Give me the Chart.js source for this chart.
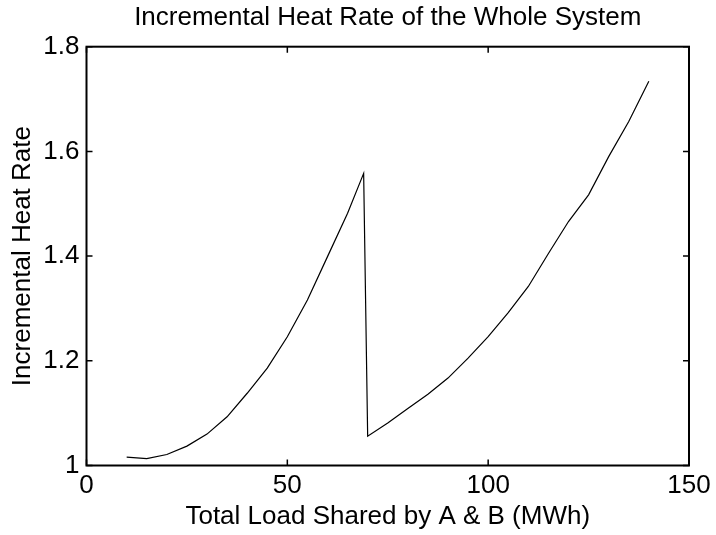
<!DOCTYPE html>
<html>
<head>
<meta charset="utf-8">
<title>Incremental Heat Rate</title>
<script src="https://cdn.jsdelivr.net/npm/chart.js@4.4.1/dist/chart.umd.min.js"></script>
<style>
  body { margin: 0; background: #fff; }
  #wrap { width: 716px; height: 535px; }
</style>
</head>
<body>
<div id="wrap"><canvas id="heatChart" width="716" height="535"></canvas></div>
<script>
// total load (MWh) and incremental heat rate
const loadMWh = [10, 15, 20, 25, 30, 35, 40, 45, 50, 55, 60, 65, 69,
  70, 75, 80, 85, 90, 95, 100, 105, 110, 115, 120, 125, 130, 135, 140];
const heatRate = [1.016, 1.013, 1.021, 1.037, 1.060, 1.093, 1.138, 1.186, 1.246, 1.316, 1.399, 1.482, 1.558,
  1.056, 1.081, 1.109, 1.136, 1.167, 1.205, 1.246, 1.292, 1.342, 1.405, 1.466, 1.517, 1.590, 1.657, 1.734];

const xTickValues = [0, 50, 100, 150];
const xTickLabels = ['0', '50', '100', '150'];
const yTickValues = [1, 1.2, 1.4, 1.6, 1.8];
const yTickLabels = ['1', '1.2', '1.4', '1.6', '1.8'];

const chartTitle = 'Incremental Heat Rate of the Whole System';

const FONT = "'Liberation Sans', Arial, Helvetica, sans-serif";
Chart.defaults.font.family = FONT;
Chart.defaults.color = '#000';

// matlab style box with inward ticks on all four sides, title centred over the axes
const boxTicks = {
  id: 'boxTicks',
  afterDatasetsDraw(chart) {
    const { ctx, chartArea: a, scales } = chart;
    const len = 6;
    ctx.save();
    ctx.strokeStyle = '#000';
    ctx.lineWidth = 1.5;
    ctx.beginPath();
    xTickValues.forEach((v) => {
      const px = scales.x.getPixelForValue(v);
      ctx.moveTo(px, a.bottom); ctx.lineTo(px, a.bottom - len);
      ctx.moveTo(px, a.top); ctx.lineTo(px, a.top + len);
    });
    yTickValues.forEach((v) => {
      const py = scales.y.getPixelForValue(v);
      ctx.moveTo(a.left, py); ctx.lineTo(a.left + len, py);
      ctx.moveTo(a.right, py); ctx.lineTo(a.right - len, py);
    });
    ctx.stroke();
    ctx.lineWidth = 2;
    ctx.strokeRect(a.left, a.top, a.right - a.left, a.bottom - a.top);

    ctx.fillStyle = '#000';
    ctx.font = '26px ' + FONT;
    ctx.textAlign = 'center';
    ctx.textBaseline = 'middle';
    ctx.fillText(chartTitle, (a.left + a.right) / 2, 18);
    ctx.restore();
  },
};

new Chart(document.getElementById('heatChart').getContext('2d'), {
  type: 'line',
  data: {
    datasets: [
      {
        label: 'Incremental Heat Rate',
        data: loadMWh.map((x, i) => ({ x: x, y: heatRate[i] })),
        borderColor: '#000',
        borderWidth: 1.2,
        pointRadius: 0,
        tension: 0,
        fill: false,
      },
    ],
  },
  options: {
    responsive: false,
    animation: false,
    devicePixelRatio: 1,
    layout: { padding: { left: 0, top: 46.7, right: 27, bottom: 0 } },
    plugins: {
      legend: { display: false },
      tooltip: { enabled: false },
      title: { display: false },
    },
    scales: {
      x: {
        type: 'linear',
        min: 0,
        max: 150,
        afterBuildTicks: (s) => { s.ticks = xTickValues.map((v) => ({ value: v })); },
        afterFit: (s) => { s.height = 69.5; },
        ticks: {
          color: '#000',
          font: { size: 26 },
          padding: 5,
          maxRotation: 0,
          callback: (v, i) => xTickLabels[i],
        },
        grid: { display: false, drawTicks: false },
        border: { display: false },
        title: {
          display: true,
          text: 'Total Load Shared by A & B (MWh)',
          color: '#000',
          font: { size: 26 },
          padding: { top: 0, bottom: 2.4 },
        },
      },
      y: {
        min: 1,
        max: 1.8,
        afterBuildTicks: (s) => { s.ticks = yTickValues.map((v) => ({ value: v })); },
        afterFit: (s) => { s.width = 86.5; },
        ticks: {
          color: '#000',
          font: { size: 26 },
          padding: 7,
          callback: (v, i) => yTickLabels[i],
        },
        grid: { display: false, drawTicks: false },
        border: { display: false },
        title: {
          display: true,
          text: 'Incremental Heat Rate',
          color: '#000',
          font: { size: 26 },
          padding: { top: 7.6, bottom: 0 },
        },
      },
    },
  },
  plugins: [boxTicks],
});
</script>
</body>
</html>
